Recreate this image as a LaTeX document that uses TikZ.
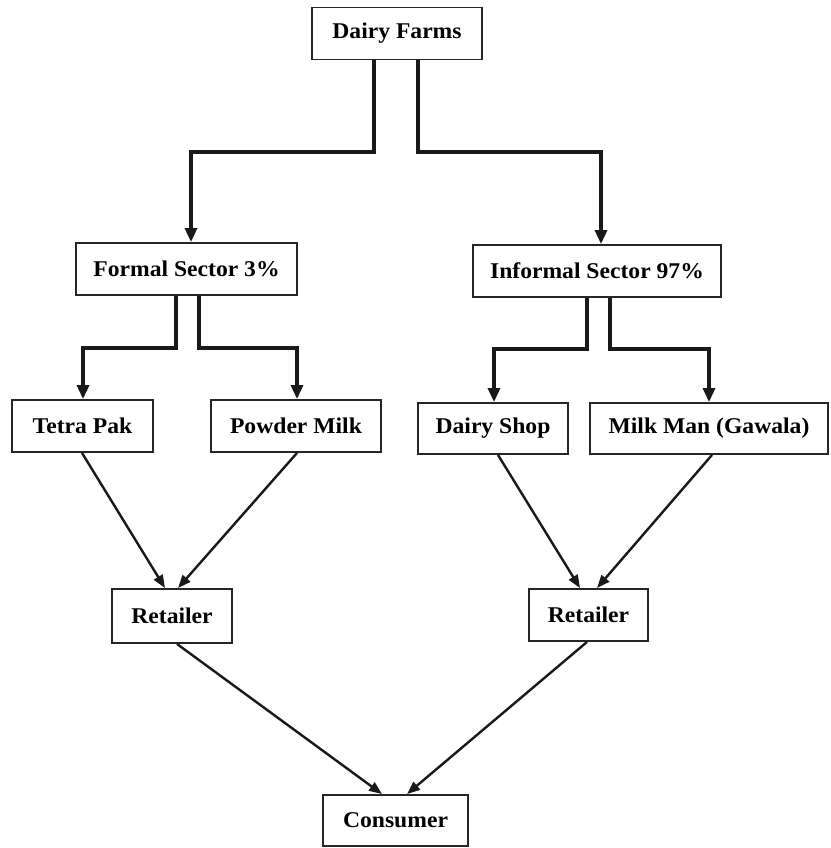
\documentclass[tikz,border=0pt]{standalone}
\usepackage{fontspec}
\setmainfont{Liberation Serif}[FakeStretch=1.05]
\usetikzlibrary{arrows.meta}
\begin{document}
\begin{tikzpicture}[x=1pt,y=-1pt,
  box/.style={draw=black!85, line width=1.9pt, rectangle, inner sep=0pt, minimum height=52pt,
    font=\fontsize{22.5}{26}\selectfont\bfseries, text=black},
  elbow/.style={draw=black!90, line width=3.2pt, -{Triangle[length=14pt,width=12pt]}},
  diag/.style={draw=black!90, line width=2.4pt, -{Triangle[length=13pt,width=10pt]}}]
\useasboundingbox (0,0) rectangle (830,848);
\fill[white] (0,0) rectangle (830,848);
\node[box, minimum width=170pt] (farms) at (397,33.5) {Dairy Farms};
\node[box, minimum width=221pt] (formal) at (186.5,269) {Formal Sector 3\%};
\node[box, minimum width=248pt] (informal) at (597,271) {Informal Sector 97\%};
\node[box, minimum width=141pt] (tetra) at (82.5,426) {Tetra Pak};
\node[box, minimum width=170pt] (powder) at (296,426) {Powder Milk};
\node[box, minimum width=150pt, minimum height=51pt] (shop) at (493,428.5) {Dairy Shop};
\node[box, minimum width=238pt, minimum height=51pt] (milkman) at (709,428.5) {Milk Man (Gawala)};
\node[box, minimum width=120pt, minimum height=54pt] (retL) at (172,616) {Retailer};
\node[box, minimum width=119pt] (retR) at (588.5,615) {Retailer};
\node[box, minimum width=145pt, minimum height=51pt] (consumer) at (395.5,820.5) {Consumer};
% elbow connectors
\draw[elbow] (farms.south -| 374,0) |- (191,152) -- (formal.north -| 191,0);
\draw[elbow] (farms.south -| 418,0) |- (601,152) -- (informal.north -| 601,0);
\draw[elbow] (formal.south -| 176,0) |- (83,348) -- (tetra.north -| 83,0);
\draw[elbow] (formal.south -| 199,0) |- (297,348) -- (powder.north -| 297,0);
\draw[elbow] (informal.south -| 587,0) |- (494,349) -- (shop.north -| 494,0);
\draw[elbow] (informal.south -| 610,0) |- (709,349) -- (milkman.north -| 709,0);
% diagonals
\draw[diag] (tetra.south -| 82,0) -- (retL.north -| 165,0);
\draw[diag] (powder.south -| 297,0) -- (retL.north -| 178,0);
\draw[diag] (shop.south -| 498,0) -- (retR.north -| 580,0);
\draw[diag] (milkman.south -| 712,0) -- (retR.north -| 597,0);
\draw[diag] (retL.south -| 177,0) -- (consumer.north -| 382,0);
\draw[diag] (retR.south -| 587,0) -- (consumer.north -| 407,0);
\end{tikzpicture}
\end{document}
